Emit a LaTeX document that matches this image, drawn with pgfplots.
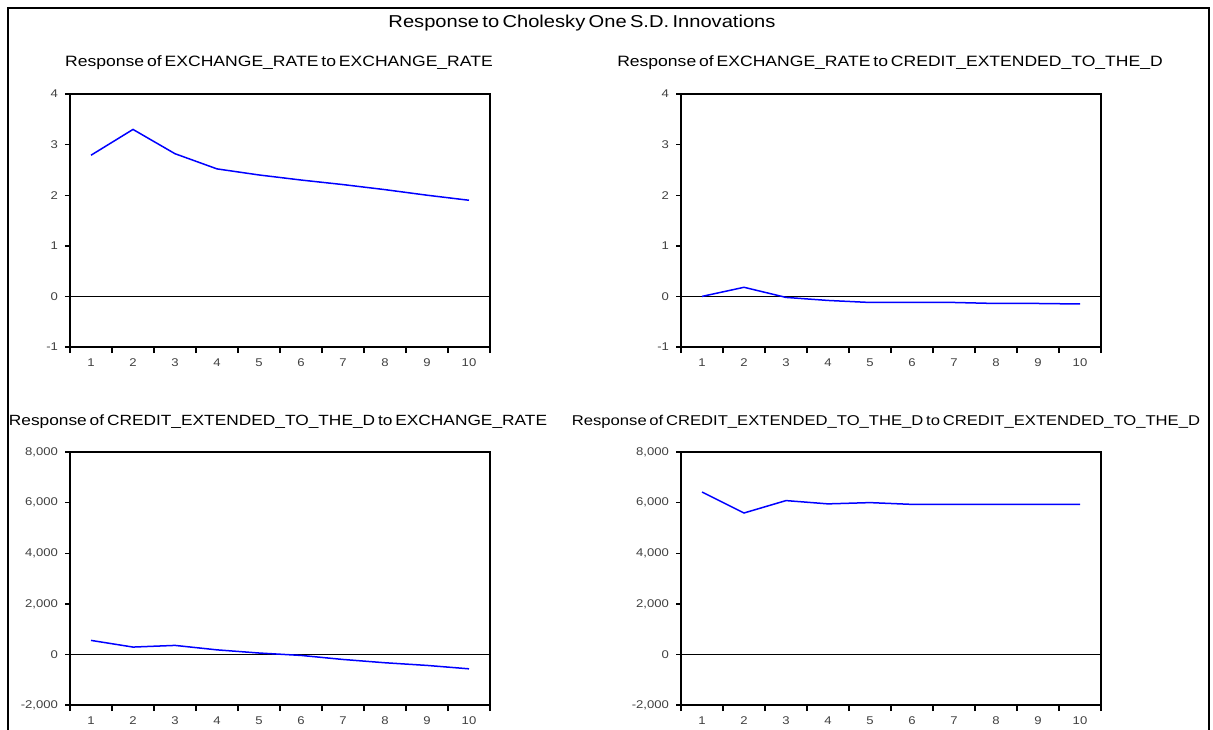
\documentclass[border=0pt]{standalone}
\usepackage{pgfplots}
\pgfplotsset{compat=1.18}
\usepackage{fontspec}
\setmainfont{Liberation Sans}[FakeStretch=1.17, WordSpace=0.6]

% one panel of the EViews impulse response grid
\pgfplotsset{irf/.style={
  scale only axis, width=210pt, height=126.5pt, anchor=south west,
  xmin=0.5, xmax=10.5,
  xtick={1,...,10},
  minor xtick={0.5,1.5,...,10.5},
  major x tick style={draw=none},
  minor tick length=3pt, major tick length=2.5pt,
  tick pos=left, tick align=outside,
  axis line style={line width=1pt},
  every tick/.style={black, line width=0.7pt},
  tick label style={font=\fontsize{5.6}{6}\selectfont, text=black!75},
  /pgf/number format/assume math mode=true,
  scaled y ticks=false,
  clip=true,
}}

\begin{document}
\begin{tikzpicture}
\path[use as bounding box] (0,0) rectangle (606.5pt,364.5pt);
\draw[line width=1pt] (4pt,-5pt) -- (4pt,360.5pt) -- (604.5pt,360.5pt) -- (604.5pt,-5pt);

\node[font=\fontsize{8.6}{10}\selectfont] at (291pt,353pt) {Response to Cholesky One S.D. Innovations};
\node[font=\fontsize{7.5}{8}\selectfont] at (139.5pt,333pt) {Response of EXCHANGE\_RATE to EXCHANGE\_RATE};
\node[font=\fontsize{7.5}{8}\selectfont] at (445pt,333pt) {Response of EXCHANGE\_RATE to CREDIT\_EXTENDED\_TO\_THE\_D};
\node[font=\fontsize{7.4}{8}\selectfont] at (139pt,153.5pt) {Response of CREDIT\_EXTENDED\_TO\_THE\_D to EXCHANGE\_RATE};
\node[font=\fontsize{7.1}{8}\selectfont] at (443pt,153.5pt) {Response of CREDIT\_EXTENDED\_TO\_THE\_D to CREDIT\_EXTENDED\_TO\_THE\_D};

% top left
\begin{axis}[irf, at={(35pt,191pt)}, ymin=-1, ymax=4, ytick={-1,0,...,4}]
\addplot[black, line width=0.7pt, forget plot] coordinates {(0.5,0) (10.5,0)};
\addplot[blue, line width=0.75pt] coordinates {
  (1,2.79) (2,3.30) (3,2.82) (4,2.52) (5,2.40) (6,2.30) (7,2.21) (8,2.11) (9,2.00) (10,1.90)};
\end{axis}

% top right
\begin{axis}[irf, at={(340.5pt,191pt)}, ymin=-1, ymax=4, ytick={-1,0,...,4}]
\addplot[black, line width=0.7pt, forget plot] coordinates {(0.5,0) (10.5,0)};
\addplot[blue, line width=0.75pt] coordinates {
  (1,0.00) (2,0.18) (3,-0.02) (4,-0.08) (5,-0.12) (6,-0.12) (7,-0.12) (8,-0.14) (9,-0.14) (10,-0.15)};
\end{axis}

% bottom left
\begin{axis}[irf, at={(35pt,12pt)}, ymin=-2000, ymax=8000, ytick={-2000,0,...,8000}]
\addplot[black, line width=0.7pt, forget plot] coordinates {(0.5,0) (10.5,0)};
\addplot[blue, line width=0.75pt] coordinates {
  (1,554) (2,290) (3,356) (4,180) (5,55) (6,-40) (7,-200) (8,-330) (9,-435) (10,-570)};
\end{axis}

% bottom right
\begin{axis}[irf, at={(340.5pt,12pt)}, ymin=-2000, ymax=8000, ytick={-2000,0,...,8000}]
\addplot[black, line width=0.7pt, forget plot] coordinates {(0.5,0) (10.5,0)};
\addplot[blue, line width=0.75pt] coordinates {
  (1,6420) (2,5590) (3,6080) (4,5950) (5,6000) (6,5930) (7,5930) (8,5930) (9,5930) (10,5930)};
\end{axis}
\end{tikzpicture}
\end{document}
